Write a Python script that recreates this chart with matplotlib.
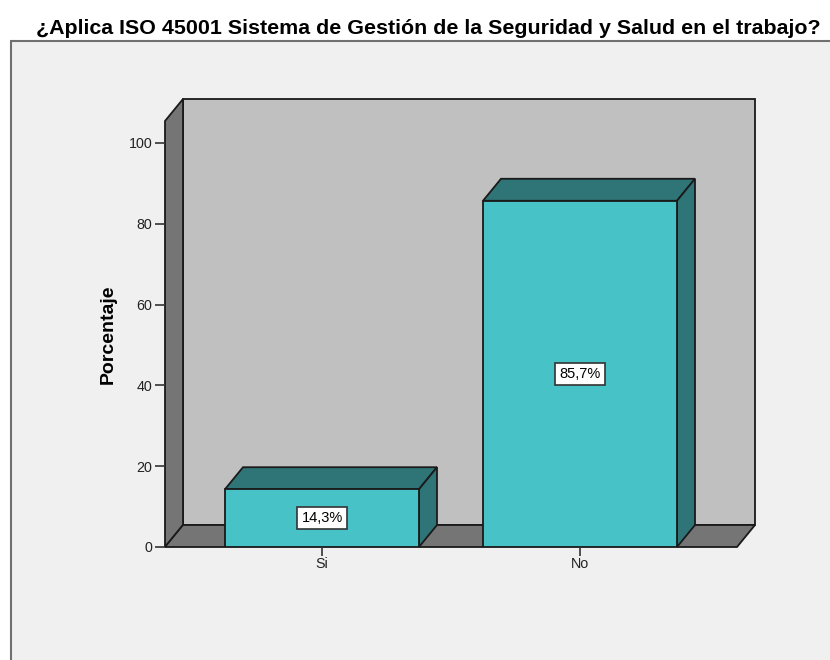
import matplotlib
matplotlib.use('Agg')
import matplotlib.pyplot as plt
from matplotlib.patches import Polygon, Rectangle

plt.rcParams['font.family'] = ['Liberation Sans', 'DejaVu Sans']

categories = ['Si', 'No']
values = [14.3, 85.7]
y_ticks = [0, 20, 40, 60, 80, 100]
title = '¿Aplica ISO 45001 Sistema de Gestión de la Seguridad y Salud en el trabajo?'
y_label = 'Porcentaje'

W, H = 830, 660
bar_color = '#47C2C6'
bar_dark = '#2F7578'
wall_color = '#C0C0C0'
side_color = '#757575'
line_color = '#1A1A1A'
panel_color = '#F0F0F0'

fig = plt.figure(figsize=(W / 100, H / 100), dpi=100, facecolor='white')

# grey panel behind the chart, open at the right and bottom
fig.patches.append(Rectangle((11 / W, -0.01), 1.01, (H - 41) / H + 0.01, transform=fig.transFigure,
                             facecolor=panel_color, edgecolor='#707070', linewidth=1.5, zorder=-1))

ax = fig.add_axes([165 / W, (H - 547) / H, (737 - 165) / W, (547 - 121) / H])
ax.patch.set_visible(False)
ax.set_xlim(-157 / 258, 1 + 157 / 258)
ax.set_ylim(0, (547 - 121) / 4.04)

x0, x1 = ax.get_xlim()
y0, y1 = ax.get_ylim()
dx = 18 / 258
dy = 22 / 4.04
bar_w = 194 / 258


def poly(pts, color, z):
    ax.add_patch(Polygon(pts, closed=True, facecolor=color, edgecolor=line_color,
                         linewidth=1.3, zorder=z, clip_on=False, joinstyle='miter'))


# back wall, side wall, floor
poly([(x0 + dx, y0 + dy), (x1 + dx, y0 + dy), (x1 + dx, y1 + dy), (x0 + dx, y1 + dy)], wall_color, 1)
poly([(x0, y0), (x0 + dx, y0 + dy), (x0 + dx, y1 + dy), (x0, y1)], side_color, 1.1)
poly([(x0, y0), (x1, y0), (x1 + dx, y0 + dy), (x0 + dx, y0 + dy)], side_color, 1.1)

xpos = range(len(categories))
ax.bar(xpos, values, width=bar_w, color=bar_color, edgecolor=line_color, linewidth=1.3, zorder=3)
for i, v in zip(xpos, values):
    left, right = i - bar_w / 2, i + bar_w / 2
    poly([(left, v), (right, v), (right + dx, v + dy), (left + dx, v + dy)], bar_dark, 2.9)
    poly([(right, 0), (right + dx, dy), (right + dx, v + dy), (right, v)], bar_dark, 2.9)
    ax.text(i, v / 2, f'{v:.1f}%'.replace('.', ','), ha='center', va='center', fontsize=10.5,
            color='black', zorder=5,
            bbox=dict(boxstyle='square,pad=0.3', facecolor='white', edgecolor='#333333', linewidth=1.2))

ax.set_xticks(list(xpos))
ax.set_xticklabels(categories)
ax.set_yticks(y_ticks)
ax.tick_params(axis='both', length=7, width=1.2, color='#333333', labelsize=10.3,
               labelcolor='#222222', pad=2)
ax.tick_params(axis='x', length=6.5, pad=1)
for name in ['top', 'right', 'left', 'bottom']:
    ax.spines[name].set_visible(False)

fig.text(108 / W, (H - 334) / H, y_label, rotation=90, ha='center', va='center',
         fontsize=14, fontweight='bold', color='black')
fig.text(428.5 / W, (H - 28) / H, title, ha='center', va='center', fontsize=15.4,
         fontweight='bold', color='black')

fig.savefig('out.png', dpi=100, facecolor='white')
